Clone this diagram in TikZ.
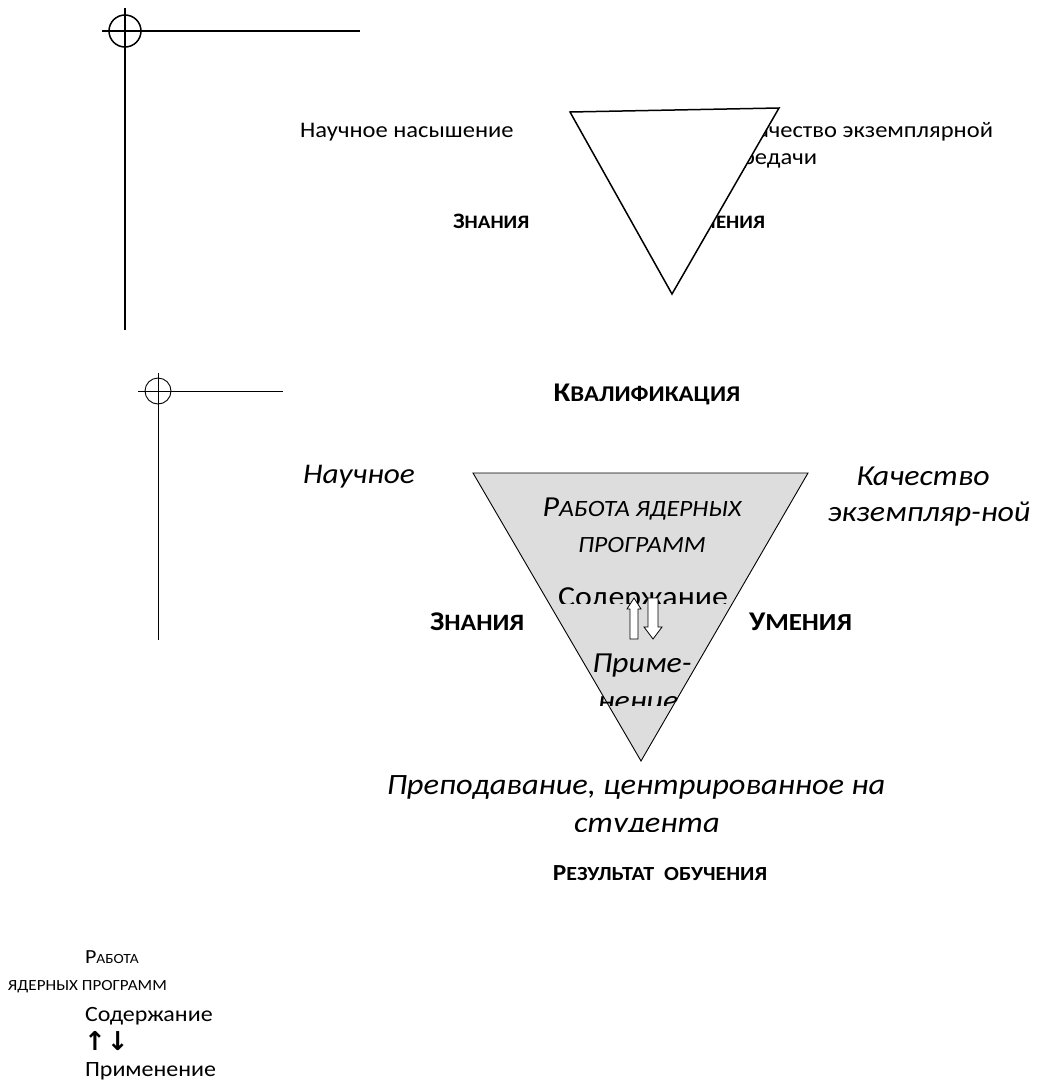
\documentclass[tikz,border=0pt]{standalone}
\usepackage{fontspec}
\setmainfont{Carlito}[FakeStretch=1.1]
\newfontfamily\arrowfont{DejaVu Sans}
\definecolor{triFill}{RGB}{221,221,221}
\newcommand\fs[1]{\fontsize{#1}{#1}\selectfont}
\tikzset{
  lbl/.style={inner sep=0pt, outer sep=0pt},
  cropA/.style={line width=1.5pt},
  cropB/.style={line width=0.9pt},
  blockarrow/.style={draw=black, fill=white, line width=0.8pt, line join=miter},
  triA/.style={line width=1.5pt, fill=white, line join=miter},
  triB/.style={line width=0.9pt, fill=triFill, line join=miter},
}
\begin{document}
\begin{tikzpicture}[x=1pt,y=-1pt]
\useasboundingbox (0,0) rectangle (1043,1081);
% ---------- crop mark A
\coordinate (ca) at (125,31);
\draw[cropA] (125,8) -- (125,330);
\draw[cropA] (102,31) -- (360,31);
\draw[cropA] (ca) circle[radius=16pt];
% ---------- top part labels
\node[lbl, anchor=base west, font=\fs{22.3}] (nauch1) at (300,137) {Научное насышение};
\node[lbl, anchor=base east, font=\fs{22.3}] (kach1a) at (993,137) {Качество экземплярной};
\node[lbl, anchor=base east, font=\fs{22.3}] (kach1b) at (817,164) {передачи};
\node[lbl, anchor=base west, font=\bfseries\fs{22}] (zn1) at (453,228) {З{\fs{19}НАНИЯ}};
\node[lbl, anchor=base east, font=\bfseries\fs{22}] (um1) at (765,228) {У{\fs{19}МЕНИЯ}};
% ---------- triangle A
\coordinate (ta1) at (570,112);
\coordinate (ta2) at (779,108);
\coordinate (ta3) at (672,294);
\draw[triA] (ta1) -- (ta2) -- (ta3) -- cycle;
% ---------- crop mark B
\coordinate (cb) at (158,391);
\draw[cropB] (158,373) -- (158,640);
\draw[cropB] (138,391) -- (283,391);
\draw[cropB] (cb) circle[radius=13pt];
% ---------- second part
\node[lbl, anchor=base, font=\bfseries\fs{27}] (kval) at (647,401) {К{\fs{22.5}ВАЛИФИКАЦИЯ}};
\node[lbl, anchor=base west, font=\itshape\fs{28.5}] (nauch2) at (303,483) {Научное};
\node[lbl, anchor=base, font=\itshape\fs{29}] (kach2a) at (923,485) {Качество};
\begin{scope}
  \clip (780,492) rectangle (1043,526);
  \node[lbl, anchor=base, font=\itshape\fs{29}] (kach2b) at (929,521) {экземпляр-ной};
\end{scope}
\coordinate (tb1) at (473,473);
\coordinate (tb2) at (808,473);
\coordinate (tb3) at (641,761);
\draw[triB] (tb1) -- (tb2) -- (tb3) -- cycle;
\node[lbl, anchor=base, font=\itshape\fs{29}] (rab) at (642,516) {Р{\fs{23.4}АБОТА ЯДЕРНЫХ}};
\node[lbl, anchor=base, font=\itshape\fs{23.3}] (prog) at (642,552) {ПРОГРАММ};
\begin{scope}
  \clip (520,570) rectangle (780,603);
  \node[lbl, anchor=base, font=\fs{29}] (sod) at (643,606) {Содержание};
\end{scope}
\draw[blockarrow] (630,639) -- (630,609) -- (627,609) -- (634,598) -- (641,609) -- (638,609) -- (638,639) -- cycle;
\draw[blockarrow] (648,598) -- (658,598) -- (658,627) -- (662,627) -- (653,639) -- (644,627) -- (648,627) -- cycle;
\node[lbl, anchor=base, font=\itshape\fs{29}] (prim) at (642,672) {Приме-};
\begin{scope}
  \clip (540,685) rectangle (740,705);
  \node[lbl, anchor=base, font=\itshape\fs{29}] (nen) at (638,710) {нение};
\end{scope}
\node[lbl, anchor=base west, font=\bfseries\fs{27}] (zn2) at (430,630) {З{\fs{23.5}НАНИЯ}};
\node[lbl, anchor=base west, font=\bfseries\fs{27}] (um2) at (749,630) {У{\fs{24.5}МЕНИЯ}};
\node[lbl, anchor=base, font=\itshape\fs{29.5}] (prep) at (636,794) {Преподавание, центрированное на};
\begin{scope}
  \clip (480,800) rectangle (800,831);
  \node[lbl, anchor=base, font=\itshape\fs{29.5}] (stud) at (647,832) {студента};
\end{scope}
\node[lbl, anchor=base, font=\bfseries\fs{23}] (rez) at (660,880) {Р{\fs{20}ЕЗУЛЬТАТ\ \ ОБУЧЕНИЯ}};
% ---------- bottom left
\node[lbl, anchor=base west, font=\fs{20}] (rab3) at (85,963) {Р{\fs{14}АБОТА}};
\node[lbl, anchor=base west, font=\fs{15.5}] (yad3) at (8,990) {ЯДЕРНЫХ ПРОГРАММ};
\node[lbl, anchor=base west, font=\fs{21.8}] (sod3) at (85,1021) {Содержание};
\node[lbl, anchor=base west, font=\arrowfont\bfseries\fs{26}] (arr3) at (84,1050) {↑\kern1pt↓};
\node[lbl, anchor=base west, font=\fs{21.8}] (prim3) at (85,1076) {Применение};
\end{tikzpicture}
\end{document}
